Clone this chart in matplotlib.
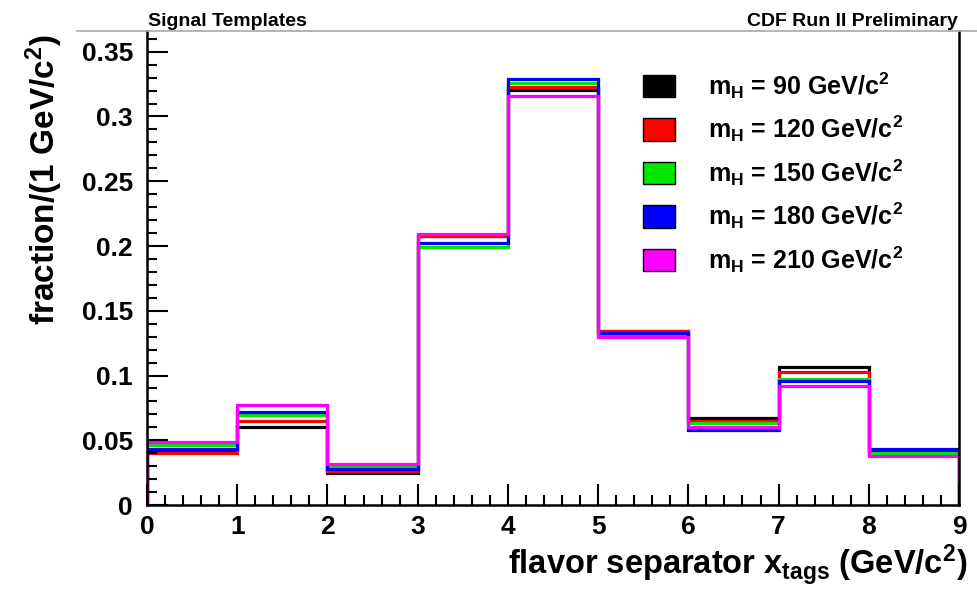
import numpy as np
import matplotlib
matplotlib.use("Agg")
import matplotlib.pyplot as plt
from matplotlib.patches import Patch
from matplotlib.lines import Line2D
from matplotlib.ticker import MultipleLocator, FuncFormatter

plt.rcParams['font.family'] = ['Liberation Sans', 'DejaVu Sans']
plt.rcParams['font.weight'] = 'bold'
plt.rcParams['mathtext.fontset'] = 'custom'
plt.rcParams['mathtext.rm'] = 'Liberation Sans:bold'
plt.rcParams['mathtext.it'] = 'Liberation Sans:bold'
plt.rcParams['mathtext.bf'] = 'Liberation Sans:bold'

# bin edges of the flavor separator and template fractions per Higgs mass
edges = np.arange(0, 10)
masses = [90, 120, 150, 180, 210]
colors = ['#000000', '#ff0000', '#00e600', '#0000ff', '#ff00ff']
frac_90 = [0.0425, 0.0605, 0.0245, 0.2075, 0.3205, 0.134, 0.0675, 0.1065, 0.041]
frac_120 = [0.040, 0.065, 0.0265, 0.208, 0.323, 0.1345, 0.065, 0.103, 0.040]
frac_150 = [0.046, 0.0695, 0.029, 0.199, 0.326, 0.131, 0.063, 0.097, 0.0405]
frac_180 = [0.043, 0.072, 0.028, 0.202, 0.329, 0.1325, 0.058, 0.096, 0.043]
frac_210 = [0.049, 0.0775, 0.032, 0.2095, 0.316, 0.130, 0.0605, 0.092, 0.0375]
templates = [frac_90, frac_120, frac_150, frac_180, frac_210]

fig = plt.figure(figsize=(9.78, 5.91), dpi=100)
ax = fig.add_axes([0.1503, 0.1455, 0.8303, 0.802])

for vals, col in zip(templates, colors):
	ax.stairs(vals, edges, baseline=0, fill=False, color=col, linewidth=2.3)

ax.set_xlim(0, 9)
ax.set_ylim(0, 0.366)
ax.xaxis.set_major_locator(MultipleLocator(1))
ax.xaxis.set_minor_locator(MultipleLocator(0.2))
ax.yaxis.set_major_locator(MultipleLocator(0.05))
ax.yaxis.set_minor_locator(MultipleLocator(0.01))
ax.yaxis.set_major_formatter(FuncFormatter(lambda v, p: '%g' % round(v, 3)))
ax.tick_params(which='both', direction='in', top=False, right=False, width=1.5)
ax.tick_params(which='major', length=15, labelsize=19)
ax.tick_params(axis='y', which='major', pad=10)
ax.tick_params(axis='x', which='major', pad=7)
ax.tick_params(which='minor', length=7)
for lab in ax.get_xticklabels() + ax.get_yticklabels():
	lab.set_fontweight('bold')
ax.spines['top'].set_visible(False)
for s in ['left', 'right', 'bottom']:
	ax.spines[s].set_linewidth(1.8)

fig.add_artist(Line2D([77 / 978, 1.0], [1 - 31 / 591, 1 - 31 / 591], color='#a8a8a8', lw=1.2))

fig.text(148 / 978, 1 - 21 / 591, 'Signal Templates', fontsize=14, fontweight='bold', va='center', ha='left')
fig.text(958 / 978, 1 - 21 / 591, 'CDF Run II Preliminary', fontsize=14, fontweight='bold', va='center', ha='right')

fig.text(967 / 978, 1 - 575 / 591, r'flavor separator $x_{tags}$ (GeV/c$^{2}$)', fontsize=23.5,
		 fontweight='bold', ha='right', va='baseline')
fig.text(44 / 978, 1 - 34 / 591, r'fraction/(1 GeV/c$^{2}$)', fontsize=24, fontweight='bold',
		 rotation=90, ha='center', va='top')

handles = [Patch(facecolor=c, edgecolor='black', linewidth=1.0) for c in colors]
labels = [r'm$_{H}$ = %d GeV/c$^{2}$' % m for m in masses]
leg = ax.legend(handles, labels, loc='upper left', bbox_to_anchor=(643 / 978, 1 - 70 / 591),
				bbox_transform=fig.transFigure, frameon=False, fontsize=18,
				handlelength=1.3, handleheight=1.0, handletextpad=1.3, labelspacing=0.52,
				borderpad=0, borderaxespad=0)
for t in leg.get_texts():
	t.set_fontweight('bold')

fig.savefig('out.png', dpi=100)
